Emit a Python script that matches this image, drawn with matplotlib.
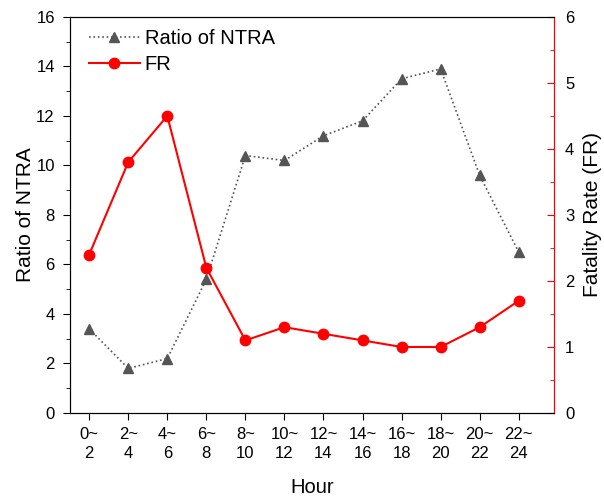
import numpy as np
import matplotlib.pyplot as plt
from matplotlib.ticker import MultipleLocator

plt.rcParams['font.family'] = ['Liberation Sans', 'DejaVu Sans']

hours = ['0~\n2', '2~\n4', '4~\n6', '6~\n8', '8~\n10', '10~\n12',
         '12~\n14', '14~\n16', '16~\n18', '18~\n20', '20~\n22', '22~\n24']
ntra = [3.4, 1.8, 2.2, 5.4, 10.4, 10.2, 11.2, 11.8, 13.5, 13.9, 9.6, 6.5]
fr = [2.4, 3.8, 4.5, 2.2, 1.1, 1.3, 1.2, 1.1, 1.0, 1.0, 1.3, 1.7]

x = np.arange(len(hours))

fig = plt.figure(figsize=(6.04, 4.97), dpi=100)
ax = fig.add_axes([0.116, 0.169, 0.801, 0.797])
ax2 = ax.twinx()

l1, = ax.plot(x, ntra, linestyle=':', color='#555555', marker='^',
              markersize=7.5, linewidth=1.2, label='Ratio of NTRA')
l2, = ax2.plot(x, fr, linestyle='-', color='#ff0000', marker='o',
               markersize=7.5, linewidth=1.5, label='FR')

ax.set_xlim(-0.49, 11.9)
ax.set_ylim(0, 16)
ax2.set_ylim(0, 6)

ax.set_xticks(x)
ax.set_xticklabels(hours, linespacing=1.35)
ax.yaxis.set_major_locator(MultipleLocator(2))
ax.yaxis.set_minor_locator(MultipleLocator(1))
ax2.yaxis.set_major_locator(MultipleLocator(1))
ax2.yaxis.set_minor_locator(MultipleLocator(0.5))

ax.tick_params(axis='x', which='major', direction='out', length=5, labelsize=12, pad=5)
ax.tick_params(axis='y', which='major', direction='out', length=5, labelsize=12, pad=6)
ax.tick_params(axis='y', which='minor', direction='out', length=3)
ax2.tick_params(axis='y', which='major', direction='in', length=5, color='red',
                labelsize=12, pad=8)
ax2.tick_params(axis='y', which='minor', direction='in', length=3, color='red')
ax2.spines['right'].set_color('red')

ax.set_xlabel('Hour', fontsize=14.5, labelpad=12)
ax.set_ylabel('Ratio of NTRA', fontsize=15, labelpad=1)
ax2.set_ylabel('Fatality Rate (FR)', fontsize=15, labelpad=6)

ax.legend(handles=[l1, l2], loc='upper left', bbox_to_anchor=(0.027, 0.985),
          frameon=False, fontsize=14.5, handlelength=2.5, borderaxespad=0,
          labelspacing=0.35, handletextpad=0.25, borderpad=0.3)

plt.savefig('out.png', dpi=100)
